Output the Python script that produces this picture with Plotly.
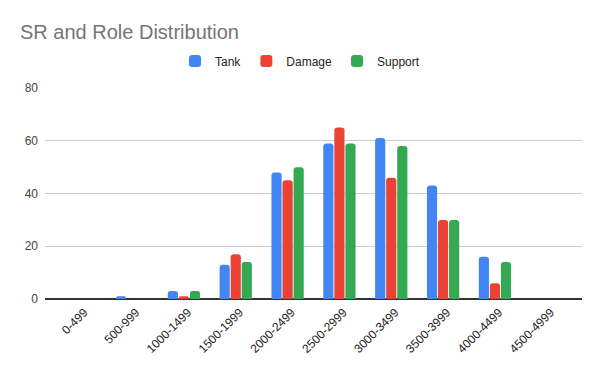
import plotly.graph_objects as go

categories = ["0-499", "500-999", "1000-1499", "1500-1999", "2000-2499",
              "2500-2999", "3000-3499", "3500-3999", "4000-4499", "4500-4999"]
tank = [0, 1, 3, 13, 48, 59, 61, 43, 16, 0]
damage = [0, 0, 1, 17, 45, 65, 46, 30, 6, 0]
support = [0, 0, 3, 14, 50, 59, 58, 30, 14, 0]
y_ticks = [0, 20, 40, 60, 80]

series = [("Tank", tank, "#4285F4"), ("Damage", damage, "#EA4335"), ("Support", support, "#34A853")]

fig = go.Figure()
for name, vals, color in series:
    fig.add_trace(go.Bar(x=categories, y=vals, name=name, marker=dict(color=color, line=dict(width=0))))

fig.update_layout(
    width=600, height=371,
    paper_bgcolor="white", plot_bgcolor="white",
    font=dict(family="Liberation Sans, Arial, sans-serif", size=12, color="#222222"),
    title=dict(text="SR and Role Distribution", x=20 / 600, xref="container", xanchor="left",
               yref="container", y=1 - 32 / 371, yanchor="middle",
               font=dict(size=20, color="#757575")),
    margin=dict(l=45, r=18, t=88, b=72, autoexpand=False),
    barmode="group", bargap=0.36, bargroupgap=0.08, barcornerradius=3,
    showlegend=True,
    legend=dict(orientation="h", xref="container", x=0.5, xanchor="center",
                yref="container", y=1 - 61 / 371, yanchor="middle",
                font=dict(size=12, color="#222222"), traceorder="normal"),
    xaxis=dict(tickangle=-45, showgrid=False, showline=False, ticks="",
               range=[-0.68, 9.68], ticklabelshift=4, ticklabelstandoff=3,
               tickfont=dict(size=12, color="#222222"), automargin=False),
    yaxis=dict(range=[0, 80], tickvals=y_ticks, showgrid=True, gridcolor="#cccccc",
               gridwidth=1, zeroline=True, zerolinecolor="#333333", zerolinewidth=1.5,
               showline=False, ticks="", ticklabelstandoff=6, automargin=False,
               tickfont=dict(size=12, color="#444444")),
)
fig.write_html("out.html", config={"displayModeBar": False},
               post_script="document.body.style.margin='0';")
